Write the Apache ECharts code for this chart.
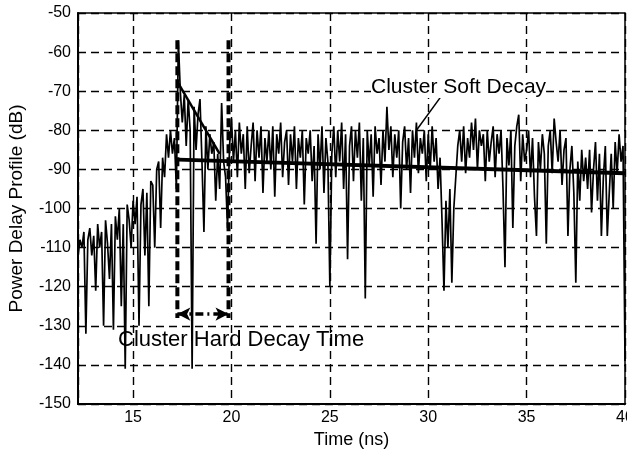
<!DOCTYPE html>
<html>
<head>
<meta charset="utf-8">
<script src="https://cdn.jsdelivr.net/npm/echarts@6/dist/echarts.min.js"></script>
<style>
  html, body { margin: 0; padding: 0; background: #fff; }
  #chart { width: 627px; height: 450px; }
</style>
</head>
<body>
<div id="chart"></div>
<script>
const FONT = '"Liberation Sans", Arial, sans-serif';

// Sample grid of the measured profile: one value every 0.1 ns from 12.2 ns.
const SAMPLE_START = 12.2;
const SAMPLE_STEP = 0.1;

// Power delay profile (dB), 12.2 ns .. 40.0 ns.
const powerDb = [
  -112, -108, -110, -106, -132, -108, -105, -112,                 // 12.2-12.9
  -107, -121, -104, -110, -106, -130, -103, -109, -118, -104,     // 13
  -131, -102, -108, -100, -125, -104, -141, -99, -103, -110,      // 14
  -98, -104, -97, -130, -99, -95, -112, -96, -125, -93,           // 15
  -94, -110, -90, -88, -105, -87, -92, -81, -87, -80,             // 16
  -86, -82, -95, -57, -70, -78, -71, -84, -72, -80,               // 17
  -141, -74, -85, -76, -72, -88, -106, -79, -90, -81,             // 18
  -86, -83, -98, -86, -95, -73, -88, -92, -105, -84,              // 19
  -77, -88, -80, -92, -78, -86, -81, -95, -79, -91,               // 20
  -84, -78, -93, -80, -87, -79, -96, -82, -88, -80,               // 21
  -90, -79, -97, -81, -86, -78, -92, -83, -80, -94,               // 22
  -81, -88, -79, -95, -82, -87, -80, -99, -82, -86,               // 23
  -80, -93, -84, -109, -81, -90, -79, -96, -82, -88,              // 24
  -120, -86, -79, -92, -80, -88, -78, -95, -81, -113,             // 25
  -84, -79, -93, -80, -87, -78, -98, -82, -123, -80,              // 26
  -89, -81, -97, -79, -86, -82, -94, -80, -88, -74,               // 27
  -85, -79, -92, -81, -87, -80, -100, -83, -79, -90,              // 28
  -82, -96, -80, -87, -78, -91, -82, -86, -80, -93,               // 29
  -81, -90, -79, -88, -82, -95, -87, -103, -121, -98,             // 30
  -110, -95, -119, -100, -92, -84, -80, -88, -79, -91,            // 31
  -82, -87, -78, -85, -77, -90, -80, -84, -81, -93,               // 32
  -80, -88, -83, -79, -92, -81, -86, -80, -95, -115,              // 33
  -82, -89, -80, -105, -84, -79, -76, -93, -81, -88,              // 34
  -85, -80, -92, -82, -97, -107, -83, -90, -81, -86,              // 35
  -109, -84, -80, -91, -77, -83, -88, -80, -94, -85,              // 36
  -82, -107, -90, -84, -96, -119, -88, -98, -85, -93,             // 37
  -87, -95, -85, -101, -90, -83, -98, -86, -107, -92,             // 38
  -84, -107, -96, -86, -100, -83, -91, -81, -88, -84,             // 39
  -139                                                            // 40
];

// Fitted decay lines [time ns, dB]
const hardDecay = [[17.3, -68], [19.4, -86]];
const softDecay = [[17.3, -87.5], [40, -91]];

// Cluster hard decay time markers
const hardStart = 17.25;
const hardEnd = 19.85;
const markerTop = -57;
const markerBottom = -128;
const markerArrowLevel = -127;

// Pointer from the "Cluster Soft Decay" label to the fitted line
const softPointer = [[30.7, -71], [29.4, -80]];

const signal = powerDb.map((v, i) => [+(SAMPLE_START + i * SAMPLE_STEP).toFixed(1), v]);

const chart = echarts.init(document.getElementById('chart'), null, { renderer: 'canvas' });

const dashed = { type: [8, 5], color: '#000', width: 1.4 };

chart.setOption({
  animation: false,
  backgroundColor: '#fff',
  textStyle: { fontFamily: FONT },
  grid: {
    left: 78, right: 2, top: 13, bottom: 46,
    outerBoundsMode: 'none', containLabel: false,
    show: true, borderColor: '#000', borderWidth: 1.5
  },
  xAxis: {
    type: 'value', min: 12.2, max: 40,
    name: 'Time (ns)', nameLocation: 'middle', nameGap: 25,
    nameTextStyle: { fontSize: 18, color: '#000', fontFamily: FONT },
    axisLine: { lineStyle: { color: '#000', width: 2 } },
    axisTick: { show: false },
    axisLabel: {
      fontSize: 16, color: '#000', margin: 6, fontFamily: FONT,
      formatter: v => (v % 5 === 0 ? String(v) : '')
    },
    splitLine: { show: true, lineStyle: dashed }
  },
  yAxis: {
    type: 'value', min: -150, max: -50, interval: 10,
    name: 'Power Delay Profile (dB)', nameLocation: 'middle', nameGap: 52,
    nameTextStyle: { fontSize: 19, color: '#000', fontFamily: FONT },
    axisLine: { lineStyle: { color: '#000', width: 2 } },
    axisTick: { show: false },
    axisLabel: { fontSize: 16, color: '#000', margin: 7, fontFamily: FONT },
    splitLine: { show: true, lineStyle: dashed }
  },
  series: [
    {
      name: 'profile', type: 'line', step: 'end', showSymbol: false,
      data: signal, lineStyle: { color: '#000', width: 1.7 }, z: 3
    },
    {
      name: 'hard decay', type: 'line', showSymbol: false,
      data: hardDecay, lineStyle: { color: '#000', width: 2.5 }, z: 4
    },
    {
      name: 'soft decay', type: 'line', showSymbol: false,
      data: softDecay, lineStyle: { color: '#000', width: 4 }, z: 4
    },
    {
      name: 'pointer', type: 'line', showSymbol: false,
      data: softPointer, lineStyle: { color: '#000', width: 1.5 }, z: 4
    },
    {
      name: 'start marker', type: 'line', showSymbol: false,
      data: [[hardStart, markerTop], [hardStart, markerBottom]],
      lineStyle: { color: '#000', width: 4, type: [9, 4] }, z: 5
    },
    {
      name: 'end marker', type: 'line', showSymbol: false,
      data: [[hardEnd, markerTop], [hardEnd, markerBottom]],
      lineStyle: { color: '#000', width: 4, type: [9, 4] }, z: 5,
      markLine: {
        silent: true, symbol: ['arrow', 'arrow'], symbolSize: [10, 13],
        label: { show: false },
        lineStyle: { color: '#000', width: 3.5, type: [8, 4, 2, 4] },
        data: [[
          { coord: [hardStart, markerArrowLevel] },
          { coord: [hardEnd, markerArrowLevel] }
        ]]
      }
    }
  ],
  graphic: [
    {
      type: 'text', left: 371, top: 77, z: 10,
      style: {
        text: 'Cluster Soft Decay', font: '21px ' + FONT, fill: '#000',
        backgroundColor: '#fff'
      }
    },
    {
      type: 'text', left: 118, top: 329, z: 10,
      style: { text: 'Cluster Hard Decay Time', font: '22px ' + FONT, fill: '#000' }
    }
  ]
});
</script>
</body>
</html>
